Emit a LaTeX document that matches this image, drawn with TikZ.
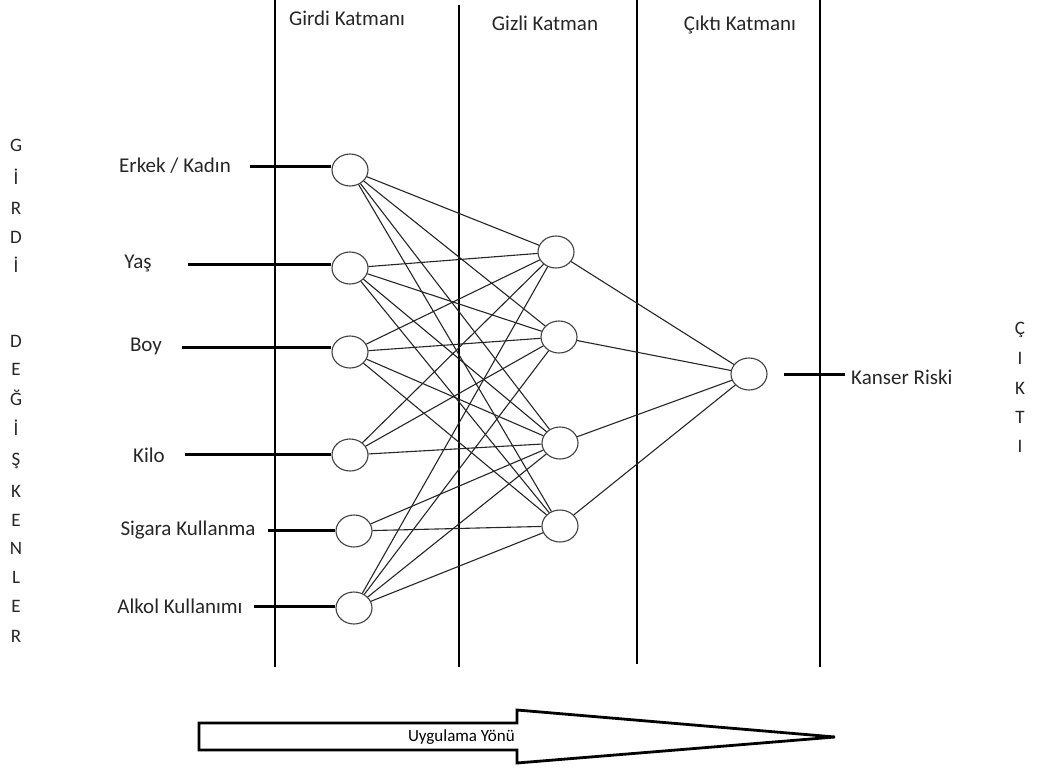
\documentclass[tikz,border=0pt]{standalone}
\usepackage{fontspec}
\setmainfont{Carlito}
\usetikzlibrary{shapes.geometric}

\tikzset{
  neuron/.style={ellipse,draw=black!75,fill=white,line width=1.1pt,
    minimum width=36pt,minimum height=32pt,inner sep=0pt},
  katman/.style={line width=1.1pt},
  giris/.style={line width=3pt},
  baglanti/.style={draw=black!85,line width=1.1pt},
  etiket/.style={font=\fontsize{21}{24}\selectfont,text=black!85,inner sep=0pt},
  harf/.style={font=\fontsize{19}{22}\selectfont,text=black!85,inner sep=0pt}
}

\begin{document}
\begin{tikzpicture}[x=1pt,y=-1pt]
\useasboundingbox (0,0) rectangle (1038,771);

% katman sinirlari
\draw[katman] (275,0) -- (275,667);
\draw[katman] (459,5) -- (459,667);
\draw[katman] (637,0) -- (637,664);
\draw[katman] (820,0) -- (820,667);

\node[etiket] (baslik1) at (347,18) {Girdi Katmanı};
\node[etiket] (baslik2) at (545,23) {Gizli Katman};
\node[etiket] (baslik3) at (740,25) {Çıktı Katmanı};

% girdi katmani
\node[neuron] (in1) at (350,170) {};
\node[neuron] (in2) at (350,268) {};
\node[neuron] (in3) at (350,352) {};
\node[neuron] (in4) at (350,455) {};
\node[neuron] (in5) at (354,531) {};
\node[neuron] (in6) at (354,608) {};

% gizli katman
\node[neuron] (h1) at (556,252) {};
\node[neuron] (h2) at (559,337) {};
\node[neuron] (h3) at (560,443) {};
\node[neuron] (h4) at (560,526) {};

% cikti katmani
\node[neuron] (out) at (749,374) {};

\foreach \i/\hs in {1/{1,2,3,4},2/{1,2,3,4},3/{1,2,3,4},4/{1,2,3},5/{3,4},6/{1,2,3,4}}
  \foreach \j in \hs
    \draw[baglanti] (in\i) -- (h\j);
\foreach \j in {1,...,4}
  \draw[baglanti] (h\j) -- (out);

% girdiler
\node[etiket] (g1) at (175,166) {Erkek / Kadın};
\node[etiket] (g2) at (138,264) {Yaş};
\node[etiket] (g3) at (146,346) {Boy};
\node[etiket] (g4) at (149,455) {Kilo};
\node[etiket] (g5) at (188,530) {Sigara Kullanma};
\node[etiket] (g6) at (180,606) {Alkol Kullanımı};

\coordinate (c1) at (250,166);
\coordinate (c2) at (188,264);
\coordinate (c3) at (182,347);
\coordinate (c4) at (185,454);
\coordinate (c5) at (268,530);
\coordinate (c6) at (254,606);
\foreach \i in {1,...,6}
  \draw[giris] (c\i) -- (c\i -| in\i.west);

% cikti
\node[etiket,anchor=west] (sonuc) at (851,377) {Kanser Riski};
\coordinate (cs) at (784,374);
\coordinate (ce) at (845,374);
\draw[giris] (cs) -- (ce);

% yan yazilar
\foreach \h/\yy in {G/145,İ/177,R/208,D/237,İ/265,D/341,E/369,Ğ/398,İ/428,Ş/461,K/491,E/520,N/548,L/577,E/606,R/636}
  \node[harf] at (16,\yy) {\h};
\foreach \h/\yy in {Ç/330,I/358,K/388,T/417,I/446}
  \node[harf] at (1020,\yy) {\h};

% uygulama yonu
\draw[line width=2.8pt,line join=miter] (199,723) -- (517,723) -- (517,710) -- (835,737)
  -- (517,763) -- (517,750) -- (199,750) -- cycle;
\node[font=\fontsize{17}{20}\selectfont,anchor=east,inner sep=0pt] (yon) at (515,737) {Uygulama Yönü};
\end{tikzpicture}
\end{document}
